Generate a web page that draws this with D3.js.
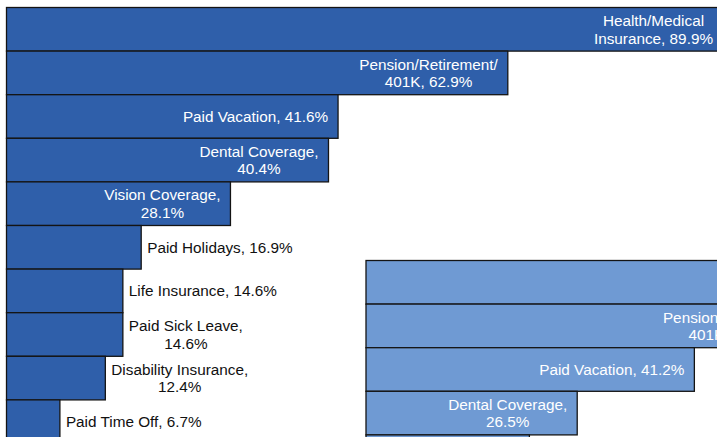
<!DOCTYPE html>
<html>
<head>
<meta charset="utf-8">
<script src="https://cdn.jsdelivr.net/npm/d3@7"></script>
<style>
  body { margin: 0; background: #fff; }
  svg { display: block; overflow: hidden; }
  text { font-family: "Liberation Sans", Arial, sans-serif; font-size: 15.3px; }
</style>
</head>
<body>
<svg id="chart"></svg>
<script>
// main chart (dark blue)
const benefits = ["Health/Medical Insurance", "Pension/Retirement/401K", "Paid Vacation", "Dental Coverage",
  "Vision Coverage", "Paid Holidays", "Life Insurance", "Paid Sick Leave", "Disability Insurance", "Paid Time Off"];
const shares = [89.9, 62.9, 41.6, 40.4, 28.1, 16.9, 14.6, 14.6, 12.4, 6.7];

// second chart peeking in from the bottom right (light blue)
const benefits2 = ["Health/Medical Insurance", "Pension/Retirement/401K", "Paid Vacation", "Dental Coverage", "Vision Coverage"];
const shares2 = [85.0, 55.9, 41.2, 26.5, 20.5];

const width = 717;
const height = 437;
const barPitch = 43.6;
const pxPerPct = 7.97;
const lineHeight = 17.5;
const wrapWidth = 155;
const padIn = 10;
const padOut = 6;

const svg = d3.select('#chart')
  .attr('width', width)
  .attr('height', height)
  .attr('viewBox', [0, 0, width, height]);

// hidden text node used only to measure label widths
const measurer = svg.append('text').attr('x', -1000).attr('y', -1000);
function textWidth(s) {
  measurer.text(s);
  return measurer.node().getComputedTextLength();
}

// greedy wrap, breaking after spaces and slashes
function wrapLabel(s) {
  const tokens = s.split(/(?<=[ \/])/);
  const lines = [];
  let cur = '';
  tokens.forEach(t => {
    const next = cur + t;
    if (cur && textWidth(next.trim()) > wrapWidth) {
      lines.push(cur.trim());
      cur = t;
    } else {
      cur = next;
    }
  });
  if (cur) lines.push(cur.trim());
  return lines;
}

function drawPanel(cats, vals, left, top, fill) {
  const rows = cats.map((c, i) => ({ cat: c, val: vals[i] }));
  const x = d3.scaleLinear().domain([0, 100]).range([left, left + 100 * pxPerPct]);
  const y = d3.scaleBand().domain(cats).range([top, top + cats.length * barPitch]).padding(0);

  const g = svg.append('g');

  g.selectAll('rect')
    .data(rows)
    .join('rect')
      .attr('x', x(0))
      .attr('y', d => y(d.cat))
      .attr('width', d => x(d.val) - x(0))
      .attr('height', y.bandwidth())
      .attr('fill', fill)
      .attr('stroke', '#141414')
      .attr('stroke-width', 1.3);

  rows.forEach(d => {
    const lines = wrapLabel(d.cat + ', ' + d.val.toFixed(1) + '%');
    const blockW = d3.max(lines, textWidth);
    const barW = x(d.val) - x(0);
    const inside = blockW + 2 * padIn <= barW;
    const cx = inside ? x(d.val) - padIn - blockW / 2 : x(d.val) + padOut + blockW / 2;
    const cy = y(d.cat) + y.bandwidth() / 2;

    g.append('text')
      .attr('text-anchor', 'middle')
      .attr('fill', inside ? '#ffffff' : '#111111')
      .selectAll('tspan')
      .data(lines)
      .join('tspan')
        .attr('x', cx)
        .attr('y', (l, i) => cy + (i - (lines.length - 1) / 2) * lineHeight)
        .attr('dominant-baseline', 'central')
        .text(l => l);
  });
}

drawPanel(benefits, shares, 6.5, 7.5, '#2f5faa');
drawPanel(benefits2, shares2, 366, 260.5, '#6f9ad3');

measurer.remove();
</script>
</body>
</html>
